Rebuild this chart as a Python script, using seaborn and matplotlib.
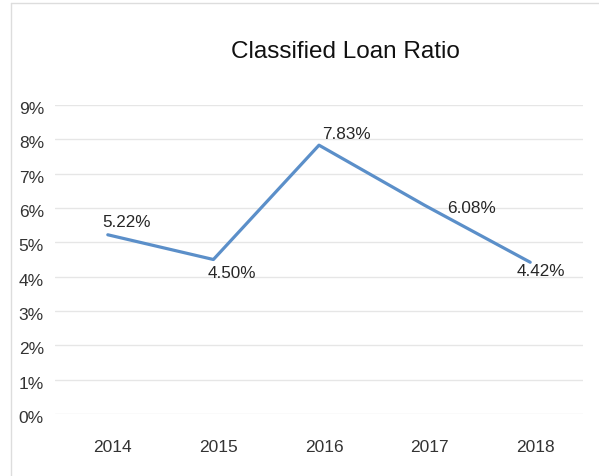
import matplotlib
matplotlib.use("Agg")
import matplotlib.pyplot as plt
from matplotlib.lines import Line2D
from matplotlib.ticker import FuncFormatter, MultipleLocator
from matplotlib.transforms import ScaledTranslation
import seaborn as sns
import pandas as pd

years = ["2014", "2015", "2016", "2017", "2018"]
ratios = [5.22, 4.50, 7.83, 6.08, 4.42]
label_offsets = [(-4, 4), (-4, -4), (2, 3), (16, -1.5), (-10, -6)]
label_va = ["bottom", "top", "bottom", "center", "center"]

sns.set_theme(style="white")
plt.rcParams["font.family"] = ["Liberation Sans", "DejaVu Sans"]

df = pd.DataFrame({"year": years, "ratio": ratios})

fig = plt.figure(figsize=(5.99, 4.77), dpi=100)
ax = fig.add_axes([55 / 599, 1 - 415 / 477, 528 / 599, (415 - 106) / 477])

sns.lineplot(data=df, x="year", y="ratio", ax=ax, color="#5B8FC9",
             linewidth=2.3, sort=False, zorder=3)

ax.set_xlim(-0.5, len(years) - 0.5)
ax.set_ylim(0, 9)
ax.yaxis.set_major_locator(MultipleLocator(1))
ax.yaxis.set_major_formatter(FuncFormatter(lambda v, p: f"{v:.0f}%"))
ax.grid(axis="y", color="#E6E6E6", linewidth=1)
ax.grid(axis="x", visible=False)
for s in ax.spines.values():
    s.set_visible(False)
ax.set_xlabel("")
ax.set_ylabel("")
ax.tick_params(axis="y", labelsize=12.5, labelcolor="#333333", pad=8, length=0)
ax.tick_params(axis="x", labelsize=12.5, labelcolor="#333333", pad=18, length=0)

# category labels sit a little to the right of their points
shift_x = ScaledTranslation(5 / 100, 0, fig.dpi_scale_trans)
for lbl in ax.get_xticklabels():
    lbl.set_transform(lbl.get_transform() + shift_x)
shift_y = ScaledTranslation(0, -2 / 100, fig.dpi_scale_trans)
for lbl in ax.get_yticklabels():
    lbl.set_transform(lbl.get_transform() + shift_y)

for i, (v, off, va) in enumerate(zip(ratios, label_offsets, label_va)):
    ax.annotate(f"{v:.2f}%", (i, v), xytext=off, textcoords="offset points",
                ha="left", va=va, fontsize=12.3, color="#262626")

fig.text(345 / 599, 1 - 52 / 477, "Classified Loan Ratio", ha="center",
         va="center", fontsize=17.5, color="#111111")

# chart frame
fig.add_artist(Line2D([11 / 599, 11 / 599], [0, 1 - 4 / 477],
                      transform=fig.transFigure, color="#DDDDDD", linewidth=1))
fig.add_artist(Line2D([11 / 599, 1], [1 - 4 / 477, 1 - 4 / 477],
                      transform=fig.transFigure, color="#DDDDDD", linewidth=1))

fig.savefig("out.png", dpi=100)
